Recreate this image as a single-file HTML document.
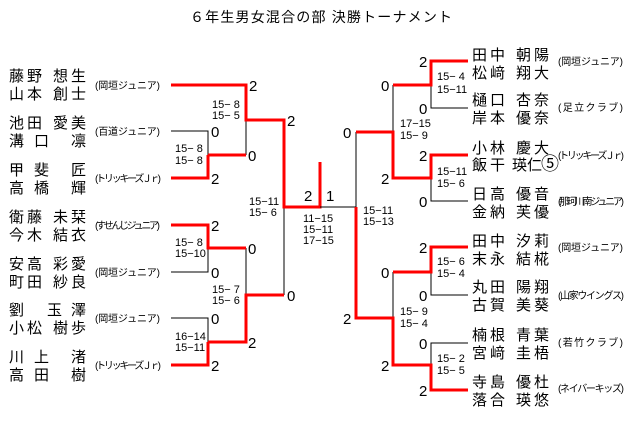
<!DOCTYPE html>
<html><head><meta charset="utf-8"><style>
html,body{margin:0;padding:0;background:#fff;width:640px;height:437px;overflow:hidden}
svg{display:block}
text{font-family:"Liberation Sans","Noto Sans CJK JP",sans-serif;fill:#000}
.n{font-size:15px}
.t{font-size:10px;fill:#334}
.s{font-size:11px}
.d{font-size:15px}
.r{stroke:#f00;stroke-width:3;fill:none}
.b{stroke:#000;stroke-width:1;fill:none}
</style></head><body>
<svg width="640" height="437" xmlns="http://www.w3.org/2000/svg">
<text x="190" y="22" font-size="14" textLength="262">６年生男女混合の部 決勝トーナメント</text>

<path class="b" d="M171 131H208V155M246 120V155M171 272H208V248M246 248V295M171 318H208V342M284 207V295"/>
<path class="r" d="M171 85H246V120H284V207H320V162M208 155V178H171M208 155H246M171 225H208V248H246M208 342V365H171M208 342H246V295H284"/>
<path class="b" d="M320 207H356V132M393 85V132M468 108H431V85M468 201H431V178M468 295H431V272M468 343H431V365M393 272V318"/>
<path class="r" d="M356 207V318H393V365H431V390H468M356 132H393V178H431V155H468M393 85H431V61H468M393 272H431V247H468"/>

<g class="d">
<text x="249" y="91">2</text><text x="211" y="137">0</text><text x="211" y="184">2</text><text x="248" y="161">0</text>
<text x="287" y="126">2</text><text x="211" y="231">2</text><text x="211" y="278">0</text><text x="248" y="254">0</text>
<text x="211" y="324">0</text><text x="211" y="371">2</text><text x="248" y="348">2</text><text x="287" y="301">0</text>
<text x="304" y="201">2</text><text x="326" y="201">1</text>
<text x="343" y="138">0</text><text x="343" y="324">2</text>
<text x="381" y="91">0</text><text x="381" y="184">2</text><text x="381" y="278">0</text><text x="381" y="371">2</text>
<text x="419" y="67">2</text><text x="419" y="114">0</text><text x="419" y="161">2</text><text x="419" y="207">0</text>
<text x="419" y="253">2</text><text x="419" y="301">0</text><text x="419" y="349">0</text><text x="419" y="396">2</text>
</g>
<g class="s">
<text x="212" y="108">15− 8</text><text x="212" y="119">15− 5</text>
<text x="175" y="152">15− 8</text><text x="175" y="164">15− 8</text>
<text x="249" y="205">15−11</text><text x="249" y="216">15− 6</text>
<text x="175" y="246">15− 8</text><text x="175" y="257">15−10</text>
<text x="212" y="293">15− 7</text><text x="212" y="304">15− 6</text>
<text x="175" y="340">16−14</text><text x="175" y="351">15−11</text>
<text x="303" y="222">11−15</text><text x="303" y="233">15−11</text><text x="303" y="244">17−15</text>
<text x="363" y="214">15−11</text><text x="363" y="225">15−13</text>
<text x="400" y="127">17−15</text><text x="400" y="139">15− 9</text>
<text x="437" y="80">15− 4</text><text x="437" y="93">15−11</text>
<text x="437" y="175">15−11</text><text x="437" y="187">15− 6</text>
<text x="437" y="265">15− 6</text><text x="437" y="277">15− 4</text>
<text x="400" y="315">15− 9</text><text x="400" y="327">15− 4</text>
<text x="437" y="362">15− 2</text><text x="437" y="374">15− 5</text>
</g>

<g class="n">
<text y="81"><tspan x="9">藤</tspan><tspan x="27">野</tspan><tspan x="53">想</tspan><tspan x="71">生</tspan></text>
<text y="99"><tspan x="9">山</tspan><tspan x="27">本</tspan><tspan x="53">創</tspan><tspan x="71">士</tspan></text>
<text y="128"><tspan x="9">池</tspan><tspan x="27">田</tspan><tspan x="53">愛</tspan><tspan x="71">美</tspan></text>
<text y="146"><tspan x="9">溝</tspan><tspan x="34">口</tspan><tspan x="71">凛</tspan></text>
<text y="175"><tspan x="9">甲</tspan><tspan x="34">斐</tspan><tspan x="71">匠</tspan></text>
<text y="193"><tspan x="9">高</tspan><tspan x="34">橋</tspan><tspan x="71">輝</tspan></text>
<text y="222"><tspan x="9">衛</tspan><tspan x="27">藤</tspan><tspan x="53">未</tspan><tspan x="71">栞</tspan></text>
<text y="240"><tspan x="9">今</tspan><tspan x="27">木</tspan><tspan x="53">結</tspan><tspan x="71">衣</tspan></text>
<text y="269"><tspan x="9">安</tspan><tspan x="27">高</tspan><tspan x="53">彩</tspan><tspan x="71">愛</tspan></text>
<text y="287"><tspan x="9">町</tspan><tspan x="27">田</tspan><tspan x="53">紗</tspan><tspan x="71">良</tspan></text>
<text y="315"><tspan x="9">劉</tspan><tspan x="47">玉</tspan><tspan x="71">澤</tspan></text>
<text y="333"><tspan x="9">小</tspan><tspan x="27">松</tspan><tspan x="53">樹</tspan><tspan x="71">歩</tspan></text>
<text y="362"><tspan x="9">川</tspan><tspan x="34">上</tspan><tspan x="71">渚</tspan></text>
<text y="380"><tspan x="9">高</tspan><tspan x="34">田</tspan><tspan x="71">樹</tspan></text>
</g>
<g class="t">
<text x="95" y="89" textLength="65">(岡垣ジュニア)</text>
<text x="95" y="135" textLength="65">(百道ジュニア)</text>
<text x="95" y="182" textLength="66">(トリッキーズＪｒ)</text>
<text x="95" y="229" textLength="65">(すせんじジュニア)</text>
<text x="95" y="276" textLength="65">(岡垣ジュニア)</text>
<text x="95" y="322" textLength="65">(岡垣ジュニア)</text>
<text x="95" y="369" textLength="66">(トリッキーズＪｒ)</text>
</g>

<g class="n">
<text y="60"><tspan x="472">田</tspan><tspan x="490">中</tspan><tspan x="516">朝</tspan><tspan x="534">陽</tspan></text>
<text y="78"><tspan x="472">松</tspan><tspan x="490">﨑</tspan><tspan x="516">翔</tspan><tspan x="534">大</tspan></text>
<text y="105"><tspan x="472">樋</tspan><tspan x="490">口</tspan><tspan x="516">杏</tspan><tspan x="534">奈</tspan></text>
<text y="123"><tspan x="472">岸</tspan><tspan x="490">本</tspan><tspan x="516">優</tspan><tspan x="534">奈</tspan></text>
<text y="153"><tspan x="472">小</tspan><tspan x="490">林</tspan><tspan x="516">慶</tspan><tspan x="534">大</tspan></text>
<text y="170"><tspan x="472">飯</tspan><tspan x="490">干</tspan><tspan x="512">瑛</tspan><tspan x="527">仁</tspan><tspan x="541" font-size="18">⑤</tspan></text>
<text y="199"><tspan x="472">日</tspan><tspan x="490">高</tspan><tspan x="516">優</tspan><tspan x="534">音</tspan></text>
<text y="217"><tspan x="472">金</tspan><tspan x="490">納</tspan><tspan x="516">芙</tspan><tspan x="534">優</tspan></text>
<text y="246"><tspan x="472">田</tspan><tspan x="490">中</tspan><tspan x="516">汐</tspan><tspan x="534">莉</tspan></text>
<text y="264"><tspan x="472">末</tspan><tspan x="490">永</tspan><tspan x="516">結</tspan><tspan x="534">椛</tspan></text>
<text y="292"><tspan x="472">丸</tspan><tspan x="490">田</tspan><tspan x="516">陽</tspan><tspan x="534">翔</tspan></text>
<text y="310"><tspan x="472">古</tspan><tspan x="490">賀</tspan><tspan x="516">美</tspan><tspan x="534">葵</tspan></text>
<text y="340"><tspan x="472">楠</tspan><tspan x="490">根</tspan><tspan x="516">青</tspan><tspan x="534">葉</tspan></text>
<text y="358"><tspan x="472">宮</tspan><tspan x="490">﨑</tspan><tspan x="516">圭</tspan><tspan x="534">梧</tspan></text>
<text y="387"><tspan x="472">寺</tspan><tspan x="490">島</tspan><tspan x="516">優</tspan><tspan x="534">杜</tspan></text>
<text y="405"><tspan x="472">落</tspan><tspan x="490">合</tspan><tspan x="516">瑛</tspan><tspan x="534">悠</tspan></text>
</g>
<g class="t">
<text x="558" y="65" textLength="65">(岡垣ジュニア)</text>
<text x="558" y="111" textLength="65">(足立クラブ)</text>
<text x="558" y="159" textLength="66">(トリッキーズＪｒ)</text>
<text x="558" y="205" textLength="66">(那珂川南ジュニア)</text>
<text x="558" y="251" textLength="65">(岡垣ジュニア)</text>
<text x="558" y="299" textLength="66">(山家ウイングス)</text>
<text x="558" y="346" textLength="65">(若竹クラブ)</text>
<text x="558" y="392" textLength="66">(ネイバーキッズ)</text>
</g>
</svg>
</body></html>
